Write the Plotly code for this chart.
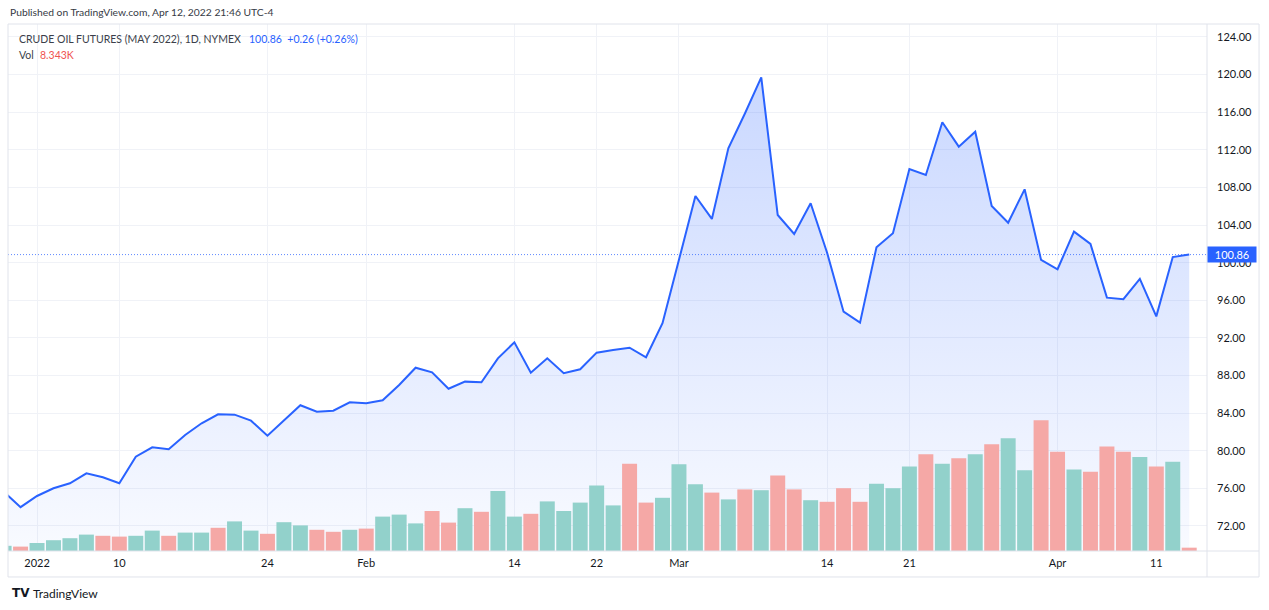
import plotly.graph_objects as go

# ---- data (trading-day index 0 = 2021-12-30 ... 72 = 2022-04-13 session) ----
price = [75.60, 74.00, 75.19, 76.01, 76.54, 77.60, 77.18, 76.54, 79.37, 80.37,
         80.16, 81.68, 82.92, 83.88, 83.84, 83.20, 81.60, 83.27, 84.84, 84.16,
         84.26, 85.15, 85.05, 85.37, 86.99, 88.83, 88.34, 86.60, 87.35, 87.28,
         89.83, 91.53, 88.30, 89.83, 88.24, 88.66, 90.43, 90.72, 90.96, 89.94,
         93.56, 100.30, 107.09, 104.65, 112.16, 115.84, 119.71, 105.07, 103.05, 106.32,
         101.06, 94.79, 93.62, 101.64, 103.13, 109.96, 109.33, 114.93, 112.34, 113.93,
         106.03, 104.25, 107.80, 100.29, 99.30, 103.30, 101.99, 96.28, 96.11, 98.27,
         94.29, 100.60, 100.86]

volume_k = [13, 11, 20, 27, 32, 41, 38, 36, 38, 51,
            38, 46, 46, 58, 74, 51, 43, 72, 64, 53,
            48, 53, 56, 86, 91, 69, 100, 71, 107, 98,
            150, 86, 93, 124, 100, 121, 164, 114, 218, 121,
            133, 217, 167, 146, 129, 154, 152, 189, 154, 127,
            123, 157, 123, 168, 157, 211, 242, 218, 232, 242,
            267, 282, 202, 327, 248, 204, 198, 261, 248, 235,
            211, 223, 8.343]

# 1 = close above open (up bar), 0 = down bar
up_bar = [1, 0, 1, 1, 1, 1, 0, 0, 1, 1,
          0, 1, 1, 0, 1, 1, 0, 1, 1, 0,
          0, 1, 0, 1, 1, 1, 0, 0, 1, 0,
          1, 1, 0, 1, 1, 1, 1, 1, 0, 0,
          1, 1, 1, 0, 1, 0, 1, 0, 0, 1,
          0, 0, 0, 1, 1, 1, 0, 1, 0, 1,
          0, 1, 1, 0, 0, 1, 0, 0, 0, 1,
          0, 1, 0]

tick_pos = [2, 7, 16, 22, 31, 36, 41, 50, 55, 64, 70]
tick_text = ["2022", "10", "24", "Feb", "14", "22", "Mar", "14", "21", "Apr", "11"]

price_ticks = [72, 76, 80, 84, 88, 92, 96, 100, 104, 108, 112, 116, 120, 124]

idx = list(range(len(price)))

BLUE = "#2962FF"
TEAL = "#92d1cb"
RED = "#f5a8a6"
GRID = "#f0f2f7"
BORDER = "#e0e3eb"
TXT = "#131722"
FONT = "Lato"

y_lo, y_hi = 69.34, 125.38

fig = go.Figure()

fig.add_trace(go.Scatter(
    x=idx, y=price, mode="lines", yaxis="y",
    line=dict(color=BLUE, width=2),
    fill="tozeroy",
    fillgradient=dict(type="vertical",
                      colorscale=[[0, "rgba(41,98,255,0.03)"], [1, "rgba(41,98,255,0.25)"]],
                      start=y_lo, stop=max(price)),
    hoverinfo="skip", showlegend=False))

fig.add_trace(go.Bar(
    x=idx, y=volume_k, yaxis="y2",
    marker=dict(color=[TEAL if u else RED for u in up_bar], line=dict(width=0)),
    hoverinfo="skip", showlegend=False))

fig.update_layout(
    width=1269, height=610,
    margin=dict(l=8, r=62, t=24, b=59),
    paper_bgcolor="white", plot_bgcolor="white",
    font=dict(family=FONT, size=11, color=TXT),
    bargap=0.09,
    xaxis=dict(range=[0.237, 73.08], tickmode="array", tickvals=tick_pos, ticktext=tick_text,
               showgrid=True, gridcolor=GRID, gridwidth=1, zeroline=False, showline=False,
               ticks="", ticklabelstandoff=4, tickfont=dict(size=11, color=TXT, family=FONT)),
    yaxis=dict(range=[y_lo, y_hi], side="right", tickmode="array", tickvals=price_ticks,
               ticktext=[f"{v:.2f}" for v in price_ticks],
               showgrid=True, gridcolor=GRID, gridwidth=1, zeroline=False, showline=False,
               ticks="", ticklabelstandoff=9, tickfont=dict(size=11, color=TXT, family=FONT)),
    yaxis2=dict(range=[0, 1317.5], overlaying="y", visible=False),
)

last = price[-1]
shapes = [
    # last price dotted line
    dict(type="line", xref="paper", yref="y", x0=0, x1=1, y0=last, y1=last,
         line=dict(color="rgba(41,98,255,0.75)", width=1, dash="1px,2px"), layer="above"),
    # chart box
    dict(type="rect", xref="paper", yref="paper", x0=0, x1=1.0434, y0=-0.0493, y1=1,
         line=dict(color=BORDER, width=1), layer="above"),
    dict(type="line", xref="paper", yref="paper", x0=1, x1=1, y0=-0.0493, y1=1,
         line=dict(color=BORDER, width=1), layer="above"),
    dict(type="line", xref="paper", yref="paper", x0=0, x1=1.0434, y0=0, y1=0,
         line=dict(color=BORDER, width=1), layer="above"),
]
fig.update_layout(shapes=shapes)

ann = [
    dict(text="Published on TradingView.com, Apr 12, 2022 21:46 UTC-4",
         x=0, y=1.0228, xanchor="left", yanchor="middle",
         font=dict(size=10.3, color="#363a45", family=FONT)),
    dict(text="CRUDE OIL FUTURES (MAY 2022), 1D, NYMEX",
         x=0.0075, y=0.9715, xanchor="left", yanchor="middle",
         font=dict(size=10.5, color="#3b3f4a", family=FONT)),
    dict(text="100.86&nbsp;&nbsp;+0.26 (+0.26%)",
         x=0.1993, y=0.9715, xanchor="left", yanchor="middle",
         font=dict(size=10.5, color=BLUE, family=FONT)),
    dict(text="Vol", x=0.0075, y=0.9412, xanchor="left", yanchor="middle",
         font=dict(size=10.5, color="#3b3f4a", family=FONT)),
    dict(text="8.343K", x=0.025, y=0.9412, xanchor="left", yanchor="middle",
         font=dict(size=10.5, color="#ef5350", family=FONT)),
    dict(text="<b>TV</b>", x=0.0017, y=-0.0797, xanchor="left", yanchor="middle",
         font=dict(size=12, color=TXT, family="DejaVu Sans")),
    dict(text="TradingView", x=0.0192, y=-0.0797, xanchor="left", yanchor="middle",
         font=dict(size=12, color=TXT, family=FONT)),
    dict(text="100.86", xref="paper", yref="y", x=1.0, y=last, xanchor="left", yanchor="middle",
         bgcolor=BLUE, font=dict(size=11, color="white", family=FONT),
         width=46, height=13, borderpad=1, align="center"),
]
for a in ann:
    a.setdefault("xref", "paper")
    a.setdefault("yref", "paper")
    a["showarrow"] = False
fig.update_layout(annotations=ann)

fig.write_html("out.html")
